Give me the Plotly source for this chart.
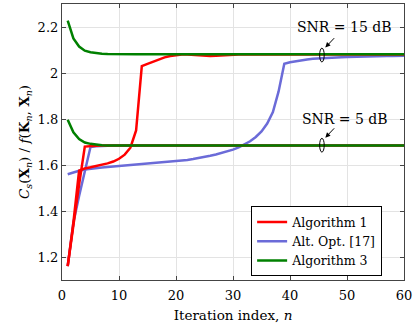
import plotly.graph_objects as go

n = list(range(1, 61))

# Algorithm 1 (red)
alg1_5db = [1.16, 1.35, 1.515, 1.68, 1.683, 1.684] + [1.685] * 54
alg1_15db = [1.16, 1.35, 1.575, 1.585, 1.59, 1.595, 1.60, 1.607, 1.615, 1.627,
             1.645, 1.675, 1.75, 2.03, 2.04, 2.05, 2.06, 2.068, 2.074, 2.078,
             2.08, 2.08, 2.078, 2.075, 2.074, 2.074, 2.075, 2.077, 2.078, 2.079] + [2.08] * 30

# Alt. Opt. [17] (blue)
alt_5db = [1.16, 1.35, 1.465, 1.572, 1.678, 1.681, 1.683] + [1.685] * 53
alt_15db = [1.560, 1.568, 1.575, 1.580, 1.584, 1.587, 1.589, 1.591, 1.593, 1.595,
            1.597, 1.599, 1.601, 1.603, 1.605, 1.607, 1.609, 1.611, 1.613, 1.616,
            1.619, 1.622, 1.626, 1.630, 1.635, 1.640, 1.646, 1.652, 1.659, 1.667,
            1.677, 1.689, 1.703, 1.722, 1.746, 1.780, 1.830, 1.920, 2.040, 2.047,
            2.052, 2.056, 2.059, 2.062, 2.064, 2.066, 2.067, 2.068, 2.069, 2.070,
            2.071, 2.071, 2.072, 2.072, 2.073, 2.073, 2.074, 2.074, 2.075, 2.075]

# Algorithm 3 (green)
alg3_5db = [1.797, 1.742, 1.713, 1.698, 1.692, 1.688, 1.686] + [1.685] * 53
alg3_15db = [2.228, 2.15, 2.115, 2.097, 2.09, 2.086, 2.084, 2.083, 2.082, 2.081] + [2.081] * 50

x_ticks = [0, 10, 20, 30, 40, 50, 60]
y_ticks = [1.2, 1.4, 1.6, 1.8, 2.0, 2.2]
y_tick_text = ['1.2', '1.4', '1.6', '1.8', '2', '2.2']

RED = '#ff0000'
BLUE = '#6b6bd8'
GREEN = '#008000'
FONT = 'DejaVu Serif, Liberation Serif, serif'

fig = go.Figure()
series = [
    (alt_5db, alt_15db, BLUE, 'Alt. Opt. [17]', 2),
    (alg1_5db, alg1_15db, RED, 'Algorithm 1', 1),
    (alg3_5db, alg3_15db, GREEN, 'Algorithm 3', 3),
]
for low, high, color, name, rank in series:
    for i, ys in enumerate((low, high)):
        fig.add_trace(go.Scatter(
            x=n, y=ys, mode='lines', name=name, legendgroup=name,
            showlegend=(i == 0), legendrank=rank,
            line=dict(color=color, width=2.5),
        ))

# SNR labels with small ellipses and arrows
for label, yc, ytxt in [('SNR = 15 dB', 2.078, 2.2), ('SNR = 5 dB', 1.686, 1.8)]:
    fig.add_shape(type='circle', xref='x', yref='y',
                  x0=45.2, x1=46.0, y0=yc - 0.03, y1=yc + 0.03,
                  line=dict(color='black', width=1))
    fig.add_annotation(x=46.2, y=yc + 0.033, ax=48.0, ay=yc + 0.08,
                       xref='x', yref='y', axref='x', ayref='y', text='',
                       showarrow=True, arrowhead=2, arrowsize=1,
                       arrowwidth=1, arrowcolor='black')
    fig.add_annotation(x=49.6, y=ytxt, xref='x', yref='y', text=label,
                       showarrow=False, font=dict(family=FONT, size=14, color='black'))

axis_common = dict(
    showgrid=True, gridcolor='#e3e3e3', gridwidth=1,
    showline=True, linecolor='#444444', linewidth=1.2, mirror='allticks',
    ticks='inside', ticklen=4, tickcolor='#444444',
    tickfont=dict(family=FONT, size=13, color='black'),
    zeroline=False,
)

fig.update_layout(
    width=415, height=327,
    margin=dict(l=62, r=9, t=3, b=47),
    paper_bgcolor='white', plot_bgcolor='white',
    font=dict(family=FONT, size=13.5, color='black'),
    xaxis=dict(range=[0, 60], tickvals=x_ticks, ticklabelstandoff=3,
               title=dict(text='Iteration index, <i>n</i>', standoff=8,
                          font=dict(family=FONT, size=13.5)),
               **axis_common),
    yaxis=dict(range=[1.1, 2.3], tickvals=y_ticks, ticktext=y_tick_text,
               title=dict(text='<i>C<sub>s</sub></i>(<b>X</b><sub><i>n</i></sub>) / '
                               '<i>f</i>(<b>K</b><sub><i>n</i></sub>, <b>X</b><sub><i>n</i></sub>)',
                          standoff=4, font=dict(family=FONT, size=13.5)),
               **axis_common),
    legend=dict(x=0.553, y=0.14, xanchor='left', yanchor='middle',
                bgcolor='white', bordercolor='black', borderwidth=1,
                font=dict(family=FONT, size=12.5), tracegroupgap=0,
                itemwidth=30),
    showlegend=True,
)

# the page body has a default 8px margin; drop it so the figure sits at the window corner
fig.write_html('out.html', config={'displayModeBar': False},
               post_script="document.body.style.margin='0';")
